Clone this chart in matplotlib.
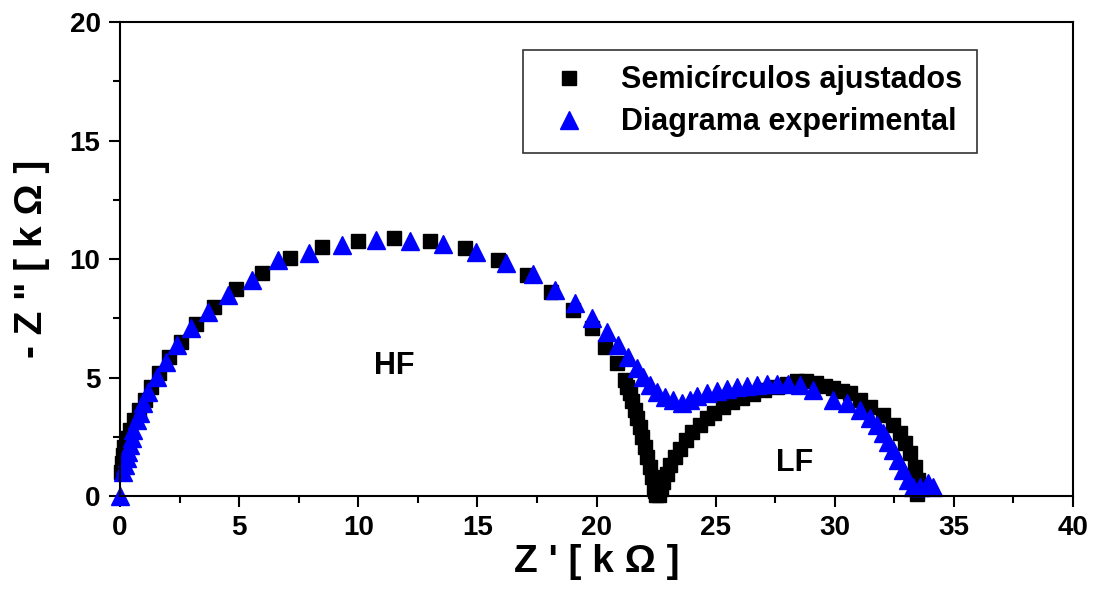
import matplotlib; matplotlib.use("Agg")
import matplotlib.pyplot as plt

plt.rcParams.update({"font.family": ["Liberation Sans", "DejaVu Sans"], "font.weight": "bold"})

# fitted semicircles (black squares), Z' and -Z'' in kOhm
fit_x = [0.05, 0.08, 0.12, 0.17, 0.28, 0.42, 0.60, 0.81, 1.05, 1.30, 1.64, 2.06, 2.56, 3.18,
         3.96, 4.87, 5.95, 7.13, 8.46, 9.97, 11.51, 13.0, 14.48, 15.85, 17.07, 18.11, 19.02,
         19.79, 20.35, 20.84, 21.19, 21.3, 21.4, 21.5, 21.61, 21.7, 21.82, 21.92, 22.03, 22.13,
         22.24, 22.33, 22.41, 22.46, 22.5,
         22.62, 22.7, 22.8, 22.95, 23.1, 23.3, 23.5, 23.75, 24.0, 24.34, 24.65, 24.95, 25.3,
         25.7, 26.1, 26.58, 27.05, 27.56, 28.0, 28.4, 28.8, 29.23, 29.6, 29.93, 30.3, 30.63,
         31.05, 31.47, 32.03, 32.45, 32.73, 32.94, 33.15, 33.36, 33.5, 33.45]
fit_y = [1.0, 1.4, 1.75, 2.08, 2.43, 2.78, 3.21, 3.63, 4.05, 4.61, 5.2, 5.85, 6.51, 7.24,
         7.99, 8.73, 9.42, 10.03, 10.49, 10.77, 10.87, 10.77, 10.45, 9.96, 9.32, 8.62, 7.85,
         7.08, 6.3, 5.6, 4.89, 4.6, 4.33, 4.0, 3.63, 3.3, 2.92, 2.5, 2.08, 1.65,
         1.24, 0.8, 0.39, 0.2, 0.05,
         0.05, 0.3, 0.6, 0.95, 1.3, 1.65, 2.0, 2.35, 2.7, 3.0, 3.28, 3.52, 3.75,
         3.95, 4.15, 4.3, 4.48, 4.6, 4.72, 4.85, 4.85, 4.76, 4.65, 4.54, 4.45, 4.33,
         4.05, 3.77, 3.42, 3.0, 2.64, 2.22, 1.8, 1.24, 0.68, 0.1]

# experimental diagram (blue triangles)
exp_x = [0.0, 0.14, 0.21, 0.28, 0.35, 0.42, 0.49, 0.56, 0.70, 0.84, 0.98, 1.19, 1.54, 1.92,
         2.41, 2.97, 3.71, 4.55, 5.53, 6.65, 7.95, 9.3, 10.74, 12.17, 13.57, 14.94, 16.2,
         17.32, 18.25, 19.09, 19.79, 20.42, 20.91, 21.33, 21.68, 21.96, 22.24, 22.52, 22.87,
         23.22, 23.57, 23.92, 24.2, 24.62, 25.04, 25.46, 25.88, 26.3, 26.72, 27.14, 27.56,
         28.05, 28.53, 29.1, 29.93, 30.5, 31.07, 31.48, 31.76, 32.04, 32.23, 32.45, 32.66,
         32.87, 33.08, 33.29, 33.57, 33.92, 34.13]
exp_y = [0.0, 1.03, 1.31, 1.6, 1.87, 2.15, 2.43, 2.78, 3.21, 3.49, 3.91, 4.4, 5.03, 5.67,
         6.37, 7.08, 7.78, 8.48, 9.11, 9.96, 10.24, 10.59, 10.8, 10.77, 10.63, 10.31, 9.82,
         9.37, 8.69, 8.13, 7.5, 6.93, 6.37, 5.88, 5.39, 5.03, 4.68, 4.4, 4.19,
         4.05, 3.94, 4.05, 4.2, 4.35, 4.45, 4.52, 4.6, 4.65, 4.7, 4.72, 4.74,
         4.74, 4.68, 4.47, 4.05, 3.91, 3.63, 3.28, 3.0, 2.64, 2.29, 1.94, 1.52,
         1.1, 0.68, 0.39, 0.39, 0.53, 0.39]

fig = plt.figure(figsize=(10.93, 6.03), dpi=100)
ax = fig.add_axes([0.1098, 0.1774, 0.8719, 0.7861])

ax.plot(fit_x, fit_y, ls="none", marker="s", ms=10, color="black", clip_on=False,
        label="Semicírculos ajustados")
ax.plot(exp_x, exp_y, ls="none", marker="^", ms=13, color="blue", mec="blue", clip_on=False,
        label="Diagrama experimental")

ax.set_xlim(0, 40); ax.set_ylim(0, 20)
ax.set_xticks(range(0, 41, 5)); ax.set_yticks(range(0, 21, 5))
ax.set_xticks([2.5 + 5 * i for i in range(8)], minor=True)
ax.set_yticks([2.5 + 5 * i for i in range(4)], minor=True)
ax.tick_params(which="major", direction="out", length=8, width=1.5, labelsize=20, pad=6)
ax.tick_params(which="minor", direction="out", length=5, width=1.5)
for s in ax.spines.values():
    s.set_linewidth(1.5)

ax.set_xlabel("Z ' [ k Ω ]", fontsize=28, fontweight="bold", labelpad=2)
ax.set_ylabel("- Z \" [ k Ω ]", fontsize=28, fontweight="bold", labelpad=14)

ax.text(11.5, 5.5, "HF", fontsize=22, fontweight="bold", ha="center", va="center")
ax.text(28.3, 1.4, "LF", fontsize=22, fontweight="bold", ha="center", va="center")

leg = ax.legend(loc="upper left", bbox_to_anchor=(0.423, 0.941), borderaxespad=0, fontsize=22,
                frameon=True, fancybox=False, edgecolor="black", borderpad=0.5,
                handletextpad=0.7, labelspacing=0.4, handlelength=2.0, markerscale=1.0)
leg.get_frame().set_linewidth(1.2)

fig.savefig("out.png", dpi=100)
